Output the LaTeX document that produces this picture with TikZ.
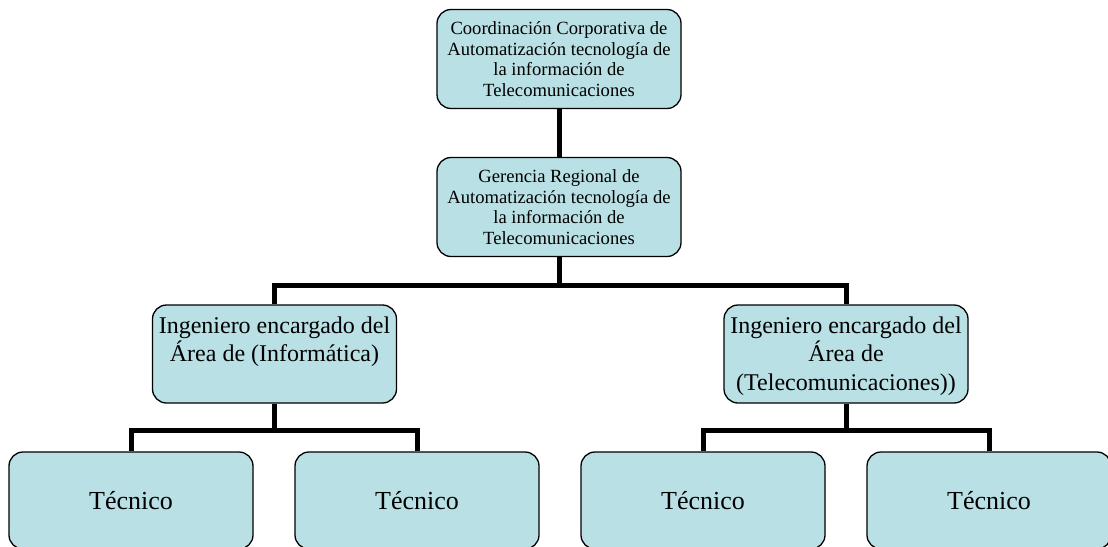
\documentclass[tikz,border=0pt]{standalone}
\usepackage{fontspec}
\setmainfont{Liberation Serif}
\definecolor{boxfill}{RGB}{185,224,228}
\begin{document}
\begin{tikzpicture}[x=1pt,y=-1pt,
  box/.style={draw=black, line width=1.3pt, fill=boxfill, rounded corners=14pt,
    minimum width=244pt, inner sep=0pt, align=center},
  topbox/.style={box, minimum height=99pt, font=\fontsize{18.6}{20.7}\selectfont},
  midbox/.style={box, minimum height=98pt},
  midtext/.style={inner sep=0pt, align=center, font=\fontsize{24}{28.5}\selectfont},
  tecbox/.style={box, minimum height=97pt, font=\fontsize{26}{30}\selectfont},
  conn/.style={draw=black, line width=5pt, line join=miter}
]
\useasboundingbox (0,0) rectangle (1108,546);
\clip (0,0) rectangle (1108,546);
\node[topbox] (c) at (559,59) {Coordinación Corporativa de\\Automatización tecnología de\\la información de\\Telecomunicaciones};
\node[topbox] (g) at (559,207) {Gerencia Regional de\\Automatización tecnología de\\la información de\\Telecomunicaciones};
\node[midbox] (m1) at (274.5,354) {};
\node[midtext] (m1t) at (274.5,341.5) {Ingeniero encargado del\\Área de (Informática)};
\node[midbox] (m2) at (846,354) {};
\node[midtext] (m2t) at (846,356) {Ingeniero encargado del\\Área de\\(Telecomunicaciones))};
\node[tecbox] (t1) at (131,500.5) {\raisebox{-2.5pt}{Técnico}};
\node[tecbox] (t2) at (417,500.5) {\raisebox{-2.5pt}{Técnico}};
\node[tecbox] (t3) at (703,500.5) {\raisebox{-2.5pt}{Técnico}};
\node[tecbox] (t4) at (989,500.5) {\raisebox{-2.5pt}{Técnico}};
\draw[conn] (c.south) -- (g.north);
\draw[conn] (g.south) -- ++(0,28) -| (m1.north);
\draw[conn] (g.south) -- ++(0,28) -| (m2.north);
\draw[conn] (m1.south) -- ++(0,27) -| (t1.north);
\draw[conn] (m1.south) -- ++(0,27) -| (t2.north);
\draw[conn] (m2.south) -- ++(0,27) -| (t3.north);
\draw[conn] (m2.south) -- ++(0,27) -| (t4.north);
\end{tikzpicture}
\end{document}
